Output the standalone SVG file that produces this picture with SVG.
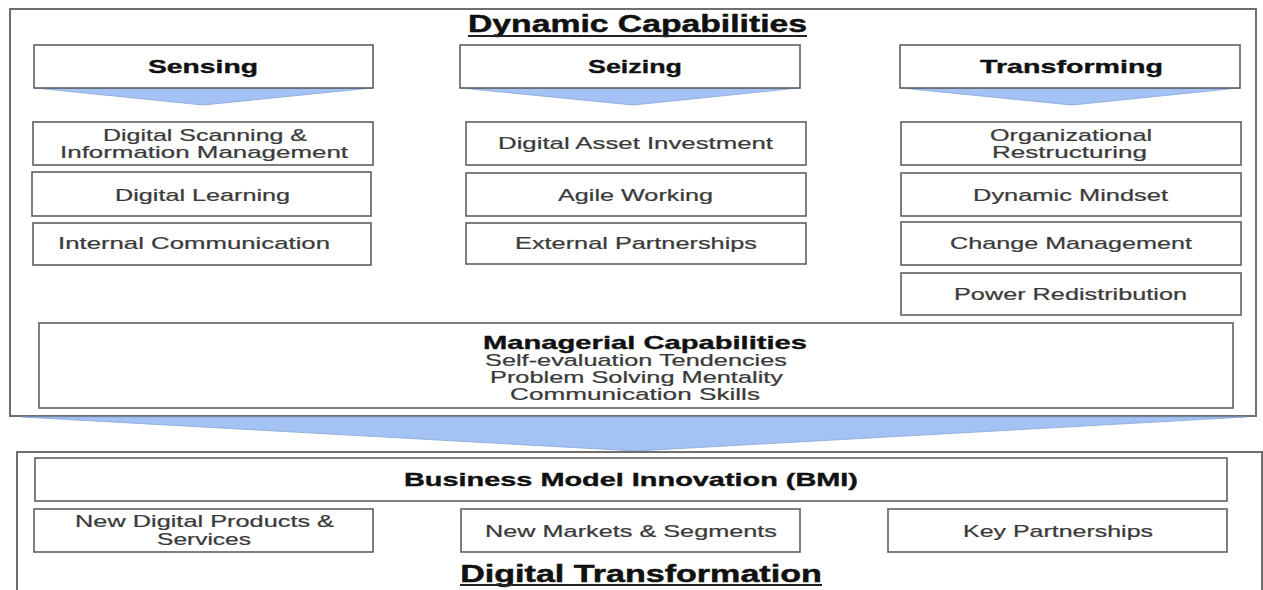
<svg xmlns="http://www.w3.org/2000/svg" width="1263" height="590" viewBox="0 0 1263 590">
  <style>
    .frame { fill: #ffffff; stroke: #6f6f6f; stroke-width: 2; }
    .box { fill: #ffffff; stroke: #5f5f5f; stroke-width: 1.6; }
    .chev { fill: #a4c2f4; stroke: #86a5d8; stroke-width: 0.8; }
    text { text-anchor: middle; stroke-linejoin: round; }
    .title { font-family: "Liberation Sans", Arial, sans-serif; font-weight: bold; font-size: 23px; fill: #111111; stroke: #111111; stroke-width: 0.45; }
    .head { font-family: "Liberation Sans", Arial, sans-serif; font-weight: bold; font-size: 18px; fill: #111111; stroke: #111111; stroke-width: 0.35; }
    .item { font-family: "Liberation Sans", Arial, sans-serif; font-size: 16px; fill: #3a3a3a; stroke: #3a3a3a; stroke-width: 0.22; }
    .uline { stroke: #222222; stroke-width: 2; }
  </style>

  <rect width="1263" height="590" fill="#ffffff"/>

  <!-- Dynamic Capabilities frame -->
  <g id="dynamic-capabilities">
    <rect class="frame" x="10" y="9" width="1246" height="407"/>
    <text class="title" transform="translate(637.5 32) scale(1.47 1)" textLength="230.6" lengthAdjust="spacingAndGlyphs">Dynamic Capabilities</text>
    <line class="uline" x1="468" y1="36" x2="807" y2="36"/>
  </g>

  <!-- Column headers with chevrons -->
  <g id="sensing">
    <polygon class="chev" points="35,88 372,88 203,105"/>
    <rect class="box" x="34" y="45" width="339" height="43"/>
    <text class="head" transform="translate(203 73) scale(1.55 1)" textLength="71" lengthAdjust="spacingAndGlyphs">Sensing</text>
  </g>
  <g id="seizing">
    <polygon class="chev" points="461,88 799,88 633,105"/>
    <rect class="box" x="460" y="45" width="340" height="43"/>
    <text class="head" transform="translate(635 73) scale(1.55 1)" textLength="60.6" lengthAdjust="spacingAndGlyphs">Seizing</text>
  </g>
  <g id="transforming">
    <polygon class="chev" points="901,88 1239,88 1072,105"/>
    <rect class="box" x="900" y="45" width="340" height="43"/>
    <text class="head" transform="translate(1071.5 73) scale(1.55 1)" textLength="118" lengthAdjust="spacingAndGlyphs">Transforming</text>
  </g>

  <!-- Sensing items -->
  <g id="digital-scanning">
    <rect class="box" x="33" y="122" width="340" height="43"/>
    <text class="item" transform="translate(205 141) scale(1.55 1)" textLength="131.6" lengthAdjust="spacingAndGlyphs">Digital Scanning &amp;</text>
    <text class="item" transform="translate(204 158) scale(1.55 1)" textLength="185.8" lengthAdjust="spacingAndGlyphs">Information Management</text>
  </g>
  <g id="digital-learning">
    <rect class="box" x="32" y="172" width="339" height="44"/>
    <text class="item" transform="translate(202.5 201) scale(1.55 1)" textLength="112.9" lengthAdjust="spacingAndGlyphs">Digital Learning</text>
  </g>
  <g id="internal-communication">
    <rect class="box" x="33" y="223" width="338" height="42"/>
    <text class="item" transform="translate(194 249) scale(1.55 1)" textLength="175.5" lengthAdjust="spacingAndGlyphs">Internal Communication</text>
  </g>

  <!-- Seizing items -->
  <g id="digital-asset-investment">
    <rect class="box" x="466" y="122" width="340" height="43"/>
    <text class="item" transform="translate(635.5 149) scale(1.55 1)" textLength="177.4" lengthAdjust="spacingAndGlyphs">Digital Asset Investment</text>
  </g>
  <g id="agile-working">
    <rect class="box" x="466" y="173" width="340" height="43"/>
    <text class="item" transform="translate(635.5 201) scale(1.55 1)" textLength="100" lengthAdjust="spacingAndGlyphs">Agile Working</text>
  </g>
  <g id="external-partnerships">
    <rect class="box" x="466" y="223" width="340" height="41"/>
    <text class="item" transform="translate(636 249) scale(1.55 1)" textLength="156.1" lengthAdjust="spacingAndGlyphs">External Partnerships</text>
  </g>

  <!-- Transforming items -->
  <g id="organizational-restructuring">
    <rect class="box" x="901" y="122" width="340" height="43"/>
    <text class="item" transform="translate(1071 141) scale(1.55 1)" textLength="104.5" lengthAdjust="spacingAndGlyphs">Organizational</text>
    <text class="item" transform="translate(1069.5 158) scale(1.55 1)" textLength="100" lengthAdjust="spacingAndGlyphs">Restructuring</text>
  </g>
  <g id="dynamic-mindset">
    <rect class="box" x="901" y="173" width="340" height="43"/>
    <text class="item" transform="translate(1070.5 201) scale(1.55 1)" textLength="125.8" lengthAdjust="spacingAndGlyphs">Dynamic Mindset</text>
  </g>
  <g id="change-management">
    <rect class="box" x="901" y="222" width="340" height="43"/>
    <text class="item" transform="translate(1071 249) scale(1.55 1)" textLength="156.1" lengthAdjust="spacingAndGlyphs">Change Management</text>
  </g>
  <g id="power-redistribution">
    <rect class="box" x="901" y="273" width="340" height="42"/>
    <text class="item" transform="translate(1070.5 300) scale(1.55 1)" textLength="150.3" lengthAdjust="spacingAndGlyphs">Power Redistribution</text>
  </g>

  <!-- Managerial capabilities -->
  <g id="managerial-capabilities">
    <rect class="box" x="39" y="323" width="1194" height="85"/>
    <text class="head" transform="translate(645 349) scale(1.55 1)" textLength="209" lengthAdjust="spacingAndGlyphs">Managerial Capabilities</text>
    <text class="item" transform="translate(636 366) scale(1.55 1)" textLength="194.8" lengthAdjust="spacingAndGlyphs">Self-evaluation Tendencies</text>
    <text class="item" transform="translate(636.5 383) scale(1.55 1)" textLength="189" lengthAdjust="spacingAndGlyphs">Problem Solving Mentality</text>
    <text class="item" transform="translate(635 400) scale(1.55 1)" textLength="161.3" lengthAdjust="spacingAndGlyphs">Communication Skills</text>
  </g>

  <!-- Connector: large chevron from dynamic capabilities into digital transformation -->
  <g id="connectors">
    <polygon class="chev" points="22,417 1246,417 636,451"/>
  </g>

  <!-- Digital Transformation frame -->
  <g id="digital-transformation">
    <path d="M17,592 V452 H1262 V592" fill="none" stroke="#6f6f6f" stroke-width="2"/>
    <text class="title" transform="translate(641 582) scale(1.47 1)" textLength="246" lengthAdjust="spacingAndGlyphs">Digital Transformation</text>
    <line class="uline" x1="460" y1="585" x2="822" y2="585"/>
  </g>

  <g id="bmi">
    <rect class="box" x="35" y="458" width="1192" height="43"/>
    <text class="head" transform="translate(631 486) scale(1.55 1)" textLength="292.9" lengthAdjust="spacingAndGlyphs">Business Model Innovation (BMI)</text>
  </g>
  <g id="new-digital-products">
    <rect class="box" x="34" y="509" width="339" height="43"/>
    <text class="item" transform="translate(204.5 527) scale(1.55 1)" textLength="167.1" lengthAdjust="spacingAndGlyphs">New Digital Products &amp;</text>
    <text class="item" transform="translate(204 545) scale(1.55 1)" textLength="60.6" lengthAdjust="spacingAndGlyphs">Services</text>
  </g>
  <g id="new-markets">
    <rect class="box" x="461" y="509" width="339" height="43"/>
    <text class="item" transform="translate(631 537) scale(1.55 1)" textLength="188.4" lengthAdjust="spacingAndGlyphs">New Markets &amp; Segments</text>
  </g>
  <g id="key-partnerships">
    <rect class="box" x="888" y="509" width="339" height="43"/>
    <text class="item" transform="translate(1058 537) scale(1.55 1)" textLength="122.6" lengthAdjust="spacingAndGlyphs">Key Partnerships</text>
  </g>
</svg>
